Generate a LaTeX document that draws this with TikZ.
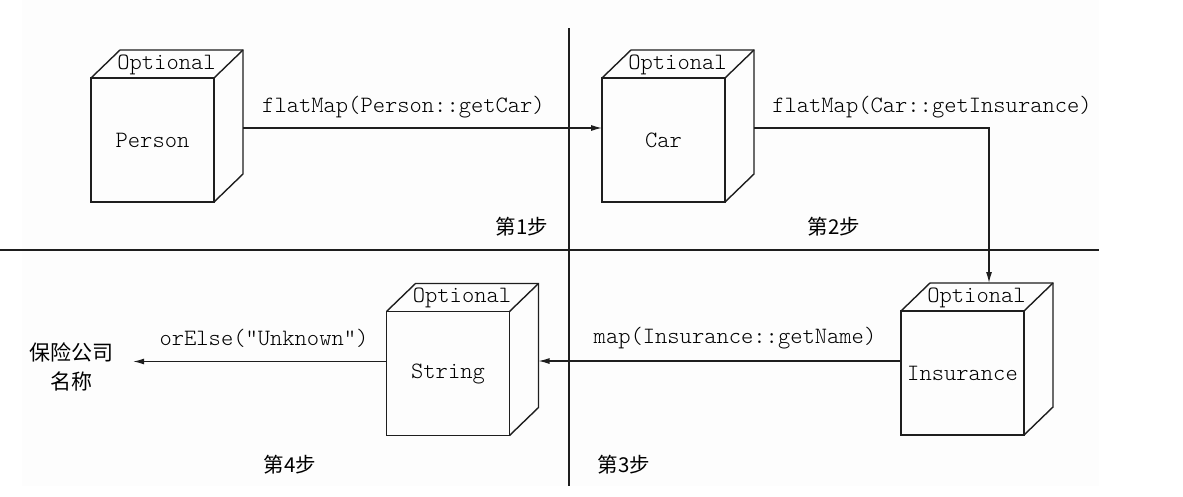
\documentclass[tikz,border=0pt]{standalone}
\usepackage{fontspec}
\newfontfamily\cjk{Noto Sans CJK SC}
\usetikzlibrary{arrows.meta}
\definecolor{bgpaper}{RGB}{253,253,253}
\definecolor{ink}{RGB}{30,30,30}
\newcommand{\codefont}{\ttfamily\fontseries{l}\fontsize{23.4}{26}\selectfont}
\begin{document}
\begin{tikzpicture}[x=1pt,y=-1pt,
  cube/.style={draw=ink, line width=1.4pt, minimum width=123pt, minimum height=124pt,
    inner sep=0pt, outer sep=0pt, font=\codefont},
  cubeline/.style={draw=ink, line width=1.4pt, line join=miter},
  opt/.style={inner sep=0pt, font=\codefont},
  code/.style={inner sep=0pt, font=\codefont},
  steplabel/.style={inner sep=0pt, font=\cjk\fontsize{20.5}{24}\selectfont},
  arr/.style={draw=ink, line width=1.2pt, -{Latex[length=11pt,width=6pt]}},
  divider/.style={draw=ink, line width=1.3pt}]
\useasboundingbox (0,0) rectangle (1183,496);
\fill[bgpaper] (22,0) rectangle (1099,486);

% dividers
\coordinate (vtop) at (569,28);
\coordinate (vbot) at (569,486);
\coordinate (hleft) at (0,250);
\coordinate (hright) at (1099,250);
\draw[divider] (vtop) -- (vbot);
\draw[divider] (hleft) -- (hright);

% cubes
\node[cube] (person) at (152.5,140) {Person};
\node[cube] (car) at (663.5,140) {Car};
\node[cube] (string) at (448,373.5) {String};
\node[cube] (ins) at (962.5,373) {Insurance};

\foreach \n in {person,car,string,ins}{
  \draw[cubeline] (\n.north west) -- ++(29,-28) coordinate (\n-tl)
     -- ++(123,0) coordinate (\n-tr) -- ++(0,124) -- (\n.south east);
  \draw[cubeline] (\n.north east) -- (\n-tr);
  \node[opt] (\n-opt) at ([xshift=14pt,yshift=13.5pt]\n.north) {Optional};
}

% result
\node[font=\cjk\fontsize{21}{29}\selectfont, align=center, inner xsep=20pt, inner ysep=2pt] (result) at (71,367) {保险公司\\名称};

% connectors
\draw[arr] ([xshift=29pt,yshift=12pt]person.east) coordinate (p1) -- (p1 -| car.west);
\draw[arr] ([xshift=29pt,yshift=12pt]car.east) -| ([xshift=26.5pt,yshift=28pt]ins.north);
\draw[arr] ([yshift=12pt]ins.west) coordinate (m1) -- (m1 -| string-tr);
\draw[arr] ([yshift=12pt]string.west) coordinate (o1) -- (o1 -| result.east);

% labels
\node[code] (l1) at (403.5,107) {flatMap(Person::getCar)};
\node[code] (l2) at (932,107) {flatMap(Car::getInsurance)};
\node[code] (l3) at (735,338) {map(Insurance::getName)};
\node[code] (l4) at (264,338) {orElse("Unknown")};

\node[steplabel] (s1) at (522,227) {第1步};
\node[steplabel] (s2) at (834,227) {第2步};
\node[steplabel] (s4) at (290,465) {第4步};
\node[steplabel] (s3) at (624,465) {第3步};
\end{tikzpicture}
\end{document}
